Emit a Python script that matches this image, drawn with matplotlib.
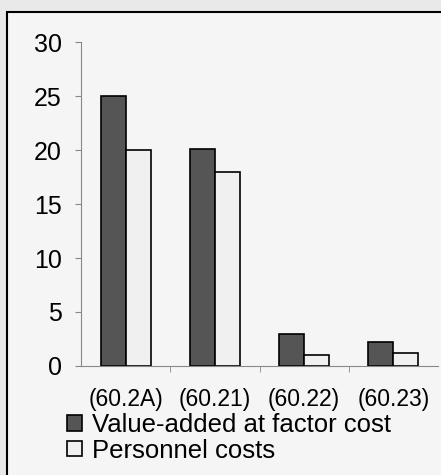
import matplotlib.pyplot as plt
import numpy as np
from matplotlib.patches import Rectangle

plt.rcParams["font.family"] = ["Liberation Sans", "DejaVu Sans"]

categories = ["(60.2A)", "(60.21)", "(60.22)", "(60.23)"]
value_added = [25.0, 20.1, 3.0, 2.2]
personnel = [20.0, 18.0, 1.0, 1.2]
series_names = ["Value-added at factor cost", "Personnel costs"]

fig = plt.figure(figsize=(4.41, 4.75), dpi=100)
fig.patch.set_facecolor("#e9e9e9")

# outer frame of the chart
fig.patches.append(Rectangle((0.016, -0.05), 1.1, 1.025, transform=fig.transFigure,
                             facecolor="#f5f5f5", edgecolor="black", linewidth=1.5, zorder=-5))

ax = fig.add_axes([0.184, 0.2295, 0.809, 0.682])
ax.set_facecolor("none")

x = np.arange(len(categories))
w = 0.28
b1 = ax.bar(x - w / 2, value_added, w, color="#555555", edgecolor="black", linewidth=1.2)
b2 = ax.bar(x + w / 2, personnel, w, color="#f0f0f0", edgecolor="black", linewidth=1.2)

ax.set_xlim(-0.5, 3.5)
ax.set_ylim(0, 30)
ax.set_yticks([0, 5, 10, 15, 20, 25, 30])
ax.tick_params(axis="y", labelsize=18, length=4, pad=10, color="#888888")

ax.set_xticks(x)
ax.set_xticklabels(categories, fontsize=16.5)
ax.tick_params(axis="x", length=0, pad=16)
ax.set_xticks([0.5, 1.5, 2.5], minor=True)
ax.tick_params(axis="x", which="minor", length=4, color="#888888")

for s in ["top", "right"]:
    ax.spines[s].set_visible(False)
for s in ["left", "bottom"]:
    ax.spines[s].set_color("#888888")
    ax.spines[s].set_linewidth(0.8)

fig.legend([b1, b2], series_names, loc="upper left", bbox_to_anchor=(0.153, 0.13),
           frameon=False, fontsize=18.5, handlelength=0.55, handleheight=0.55,
           handletextpad=0.4, labelspacing=0.05, borderpad=0, borderaxespad=0)

fig.savefig("out.png", dpi=100, facecolor=fig.get_facecolor())
